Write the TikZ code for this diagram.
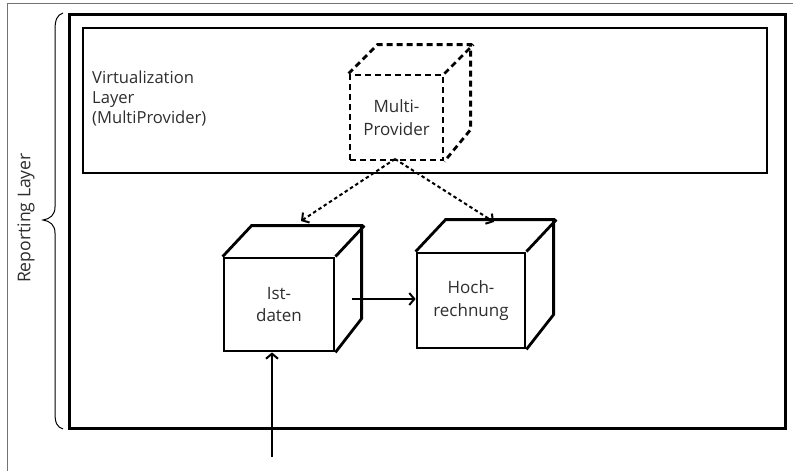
\documentclass[tikz,border=0pt]{standalone}
\usepackage{fontspec}
\setmainfont{Open Sans}
\usetikzlibrary{arrows.meta}
\begin{document}
\begin{tikzpicture}[x=1pt,y=-1pt,
  txt/.style={font=\fontsize{17}{22.5}\selectfont, text=black!82},
  layerbox/.style={draw, line width=3pt, inner sep=0pt},
  cubeface/.style={draw, line width=2.8pt, fill=white, inner sep=0pt, align=center, txt},
  cubeedge/.style={line width=2.8pt, line join=miter},
  dashcube/.style={dash pattern=on 6pt off 4pt},
  flow/.style={line width=2pt, -{Straight Barb[length=5pt,width=12pt,line width=2pt]}},
  dotflow/.style={line width=2pt, dash pattern=on 3.5pt off 2.8pt, -{Straight Barb[length=5pt,width=12pt,line width=2pt]}}
]
\useasboundingbox (0,0) rectangle (793,471);

% outer frame (top and left edge)
\draw[black!55, line width=0.9pt] (793,3) -- (7,3) -- (7,471);

% layers
\node[layerbox, minimum width=716, minimum height=414] (rep) at (427,221) {};
\node[layerbox, line width=2.6pt, minimum width=684, minimum height=145] (virt) at (425,100.5) {};
\node[txt, font=\fontsize{16.6}{20}\selectfont, anchor=north west, align=left, inner sep=0pt] (virtlbl) at (92,70.5) {Virtualization\\Layer\\(MultiProvider)};

% brace and its label
\draw[line width=1pt] (63,13) .. controls (57,15) and (55,20) .. (55,30)
  -- (55,207) .. controls (55,215) and (50,219) .. (43,220)
  .. controls (50,221) and (55,225) .. (55,233)
  -- (55,413) .. controls (55,423) and (57,427) .. (63,429);
\node[txt, font=\fontsize{17.6}{20}\selectfont, rotate=90] (replbl) at (26,218) {Reporting Layer};

% MultiProvider cube (dashed)
\node[cubeface, dashcube, fill=none, minimum width=93, minimum height=85] (mp) at (396.5,117.5) {Multi-\\Provider};
\draw[cubeedge, dashcube] (mp.north west) -- ++(29pt,29pt) -- ++(93pt,0pt) -- ++(0pt,-85pt) -- (mp.south east);
\draw[cubeedge, dashcube] (mp.north east) -- ++(29pt,29pt);

% Istdaten cube
\node[cubeface, minimum width=110, minimum height=93] (ist) at (279,304.5) {Ist-\\daten};
\draw[cubeedge] (ist.north west) -- ++(29pt,31pt) -- ++(110pt,0pt) -- ++(0pt,-93pt) -- (ist.south east);
\draw[cubeedge] (ist.north east) -- ++(29pt,31pt);

% Hochrechnung cube
\node[cubeface, minimum width=108, minimum height=95] (hoch) at (471,300.5) {Hoch-\\rechnung};
\draw[cubeedge] (hoch.north west) -- ++(30pt,32pt) -- ++(108pt,0pt) -- ++(0pt,-95pt) -- (hoch.south east);
\draw[cubeedge] (hoch.north east) -- ++(30pt,32pt);

% connectors
\coordinate (mpout) at (395,159);
\coordinate (istin) at (301,221);
\coordinate (hochin) at (494,222);
\coordinate (src) at (272,457);
\coordinate (istout) at (352,299);
\draw[dotflow] (mpout) -- (istin);
\draw[dotflow] (mpout) -- (hochin);
\draw[flow] (istout) -- (hoch.west |- istout);
\draw[flow] (src) -- (src |- ist.south);
\end{tikzpicture}
\end{document}
